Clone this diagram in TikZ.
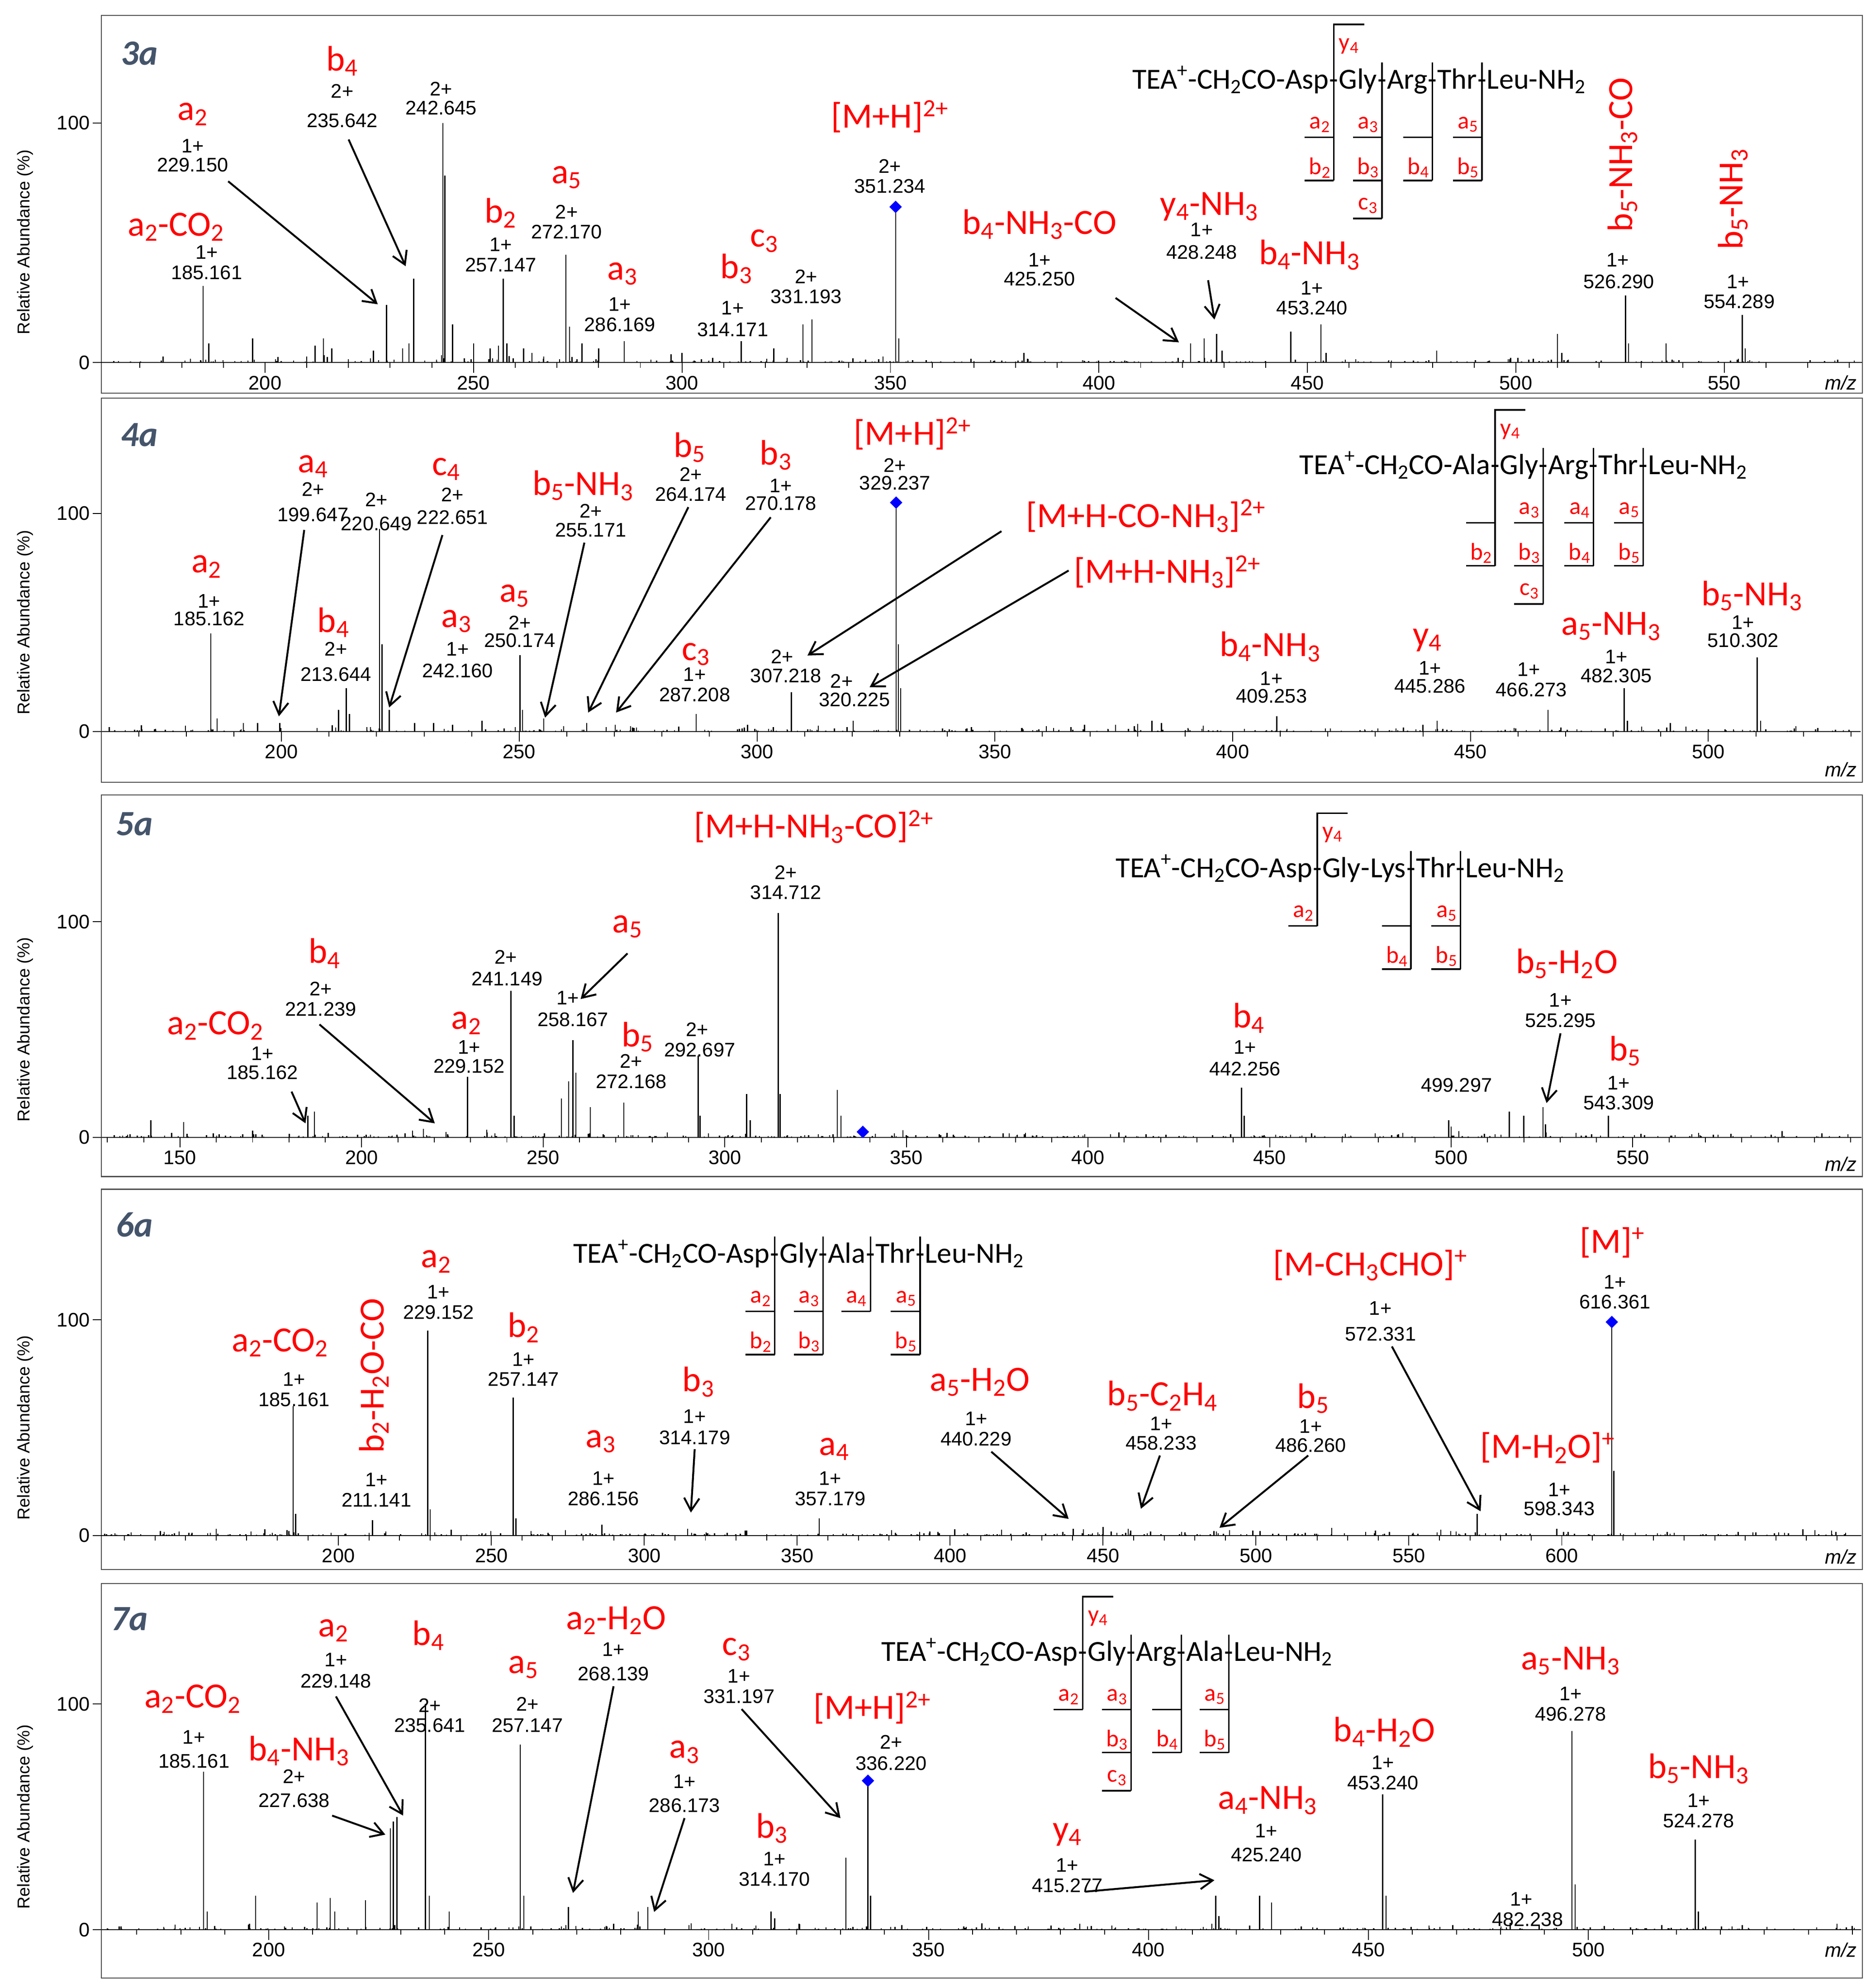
\documentclass[tikz,border=0pt]{standalone}
\usepackage{fontspec}
\setmainfont{Liberation Sans}
\newfontfamily\calfont{Carlito}
\usetikzlibrary{arrows.meta,shapes.geometric}
\definecolor{titlec}{HTML}{44546A}
\newcommand\sub[1]{\textsubscript{#1}}
\newcommand\super[1]{\textsuperscript{#1}}
\tikzset{
 lab/.style={text=red,font=\calfont\fontsize{28}{30}\selectfont,inner sep=0},
 num/.style={font=\fontsize{15.5}{17}\selectfont,inner sep=0},
 seqt/.style={font=\calfont\fontsize{23}{25}\selectfont,inner sep=0,anchor=base west},
 slab/.style={text=red,font=\calfont\fontsize{19}{20}\selectfont,inner sep=0},
 ptitle/.style={font=\calfont\bfseries\itshape\fontsize{28}{30}\selectfont,text=titlec},
 tickl/.style={font=\fontsize{15.5}{17}\selectfont,inner sep=0},
 ylab/.style={font=\fontsize{13.5}{15}\selectfont,rotate=90,inner sep=0},
 pk/.style={line width=0.9pt},
 ax/.style={line width=0.7pt},
 frm/.style={line width=0.8pt,draw=black!70},
 cut/.style={line width=1.2pt},
 arr/.style={-{Straight Barb[length=10pt,width=12pt]},line width=1.5pt},
 dia/.style={diamond,fill=blue,inner sep=0,minimum size=10pt},
}
% name, xlabel, ylabel, xnum, ycharge, ymass, label, charge, mass
\newcommand\ann[9]{%
 \node[lab] (#1l) at (#2,#3) {#7};
 \node[num] (#1c) at (#4,#5) {#8};
 \node[num] (#1m) at (#4,#6) {#9};}
% prefix, x, y, r1, r2, r3, r4
\newcommand\seqn[7]{%
 \node[seqt] (#1s0) at (#2,#3) {TEA\super{+}-CH\sub{2}CO-#4};
 \node[seqt] (#1h1) at (#1s0.base east) {-};
 \node[seqt] (#1s1) at (#1h1.base east) {#5};
 \node[seqt] (#1h2) at (#1s1.base east) {-};
 \node[seqt] (#1s2) at (#1h2.base east) {#6};
 \node[seqt] (#1h3) at (#1s2.base east) {-};
 \node[seqt] (#1s3) at (#1h3.base east) {#7};
 \node[seqt] (#1h4) at (#1s3.base east) {-};
 \node[seqt] (#1s4) at (#1h4.base east) {Leu-NH\sub{2}};}
\newcommand\cutv[2]{\draw[cut] ([yshift=17pt]#1.center) -- ([yshift=#2pt]#1.center);}
\newcommand\yfr[1]{\draw[cut] ([yshift=17pt]#1.center) -- ([yshift=47pt]#1.center) -- ++(24,0);
 \node[slab] (#1y) at ([xshift=12pt,yshift=30pt]#1.center) {y\sub4};}
\newcommand\slot[3]{\node[slab] (#1n#2) at ([xshift=-11pt,yshift=#2pt]#1.center) {#3};
 \draw[cut] ([yshift=#2pt-10pt]#1.center) -- ++(-23,0);}
% xmin,xmax,minorstart,minorend,majorstart,majorend
\newcommand\xaxis[6]{%
 \draw[ax] (#1,0) -- (#2,0);
 \foreach \t in {#3,\the\numexpr#3+10\relax,...,#4} \draw[ax] (\t,0) -- ++(0,-4pt);
 \foreach \t in {#5,\the\numexpr#5+50\relax,...,#6} {\draw[ax] (\t,0) -- ++(0,-8pt);
   \node[tickl] at ([yshift=-16pt]\t,0) {\t};}}
\newcommand\noise[3]{\foreach \i in {1,...,#3}{%
 \pgfmathsetmacro\xx{#1+rnd*(#2-#1)}\pgfmathsetmacro\hh{0.4+4*rnd*rnd*rnd}%
 \draw[pk] (\xx,0) -- (\xx,\hh);}}
\newcommand\yaxis[3]{% baseline, y100, center
 \draw[ax] (80,#1) -- (73,#1); \draw[ax] (80,#2) -- (73,#2);
 \node[tickl,anchor=east] at (71,#1) {0};
 \node[tickl,anchor=east] at (71,#2) {100};
 \node[ylab] at (20,#3) {Relative Abundance (\%)};}
\begin{document}
\begin{tikzpicture}[x=1pt,y=-1pt]
\pgfmathsetseed{7}
\useasboundingbox[fill=white] (0,0) rectangle (1472,1568);
%================ 3a
\draw[frm] (80,12) rectangle (1469,310);
\node[ptitle] (t3) at (110,42) {3a};
\yaxis{286}{97}{191}
\begin{scope}[shift={(-448.7,286)},x=3.289pt,y=1.89pt]
 \xaxis{160.7}{583}{170}{580}{200}{550}
 \noise{162}{582}{260}
 \foreach \m/\h in {185.161/32,186.5/8,197/10,212/7,214/10,216/6,226/5,229.150/24,233/6,234.5/8,235.642/35,242.645/100,243.15/78,245/16,250/8,254/6,256/7,257.147/35,258/8,262/6,264/4,272.170/45,273/15,276/8,280/6,286.169/9,300/4,314.171/9,322/6,329/16,331.193/18,351.234/65,352/10,382/4,422/8,425.250/10,428.248/12,429.5/5,446/13,453.240/16,454.5/4,481/5,510/12,511/4,526.290/28,527/8,536/8,554.289/20,555/6}
  \draw[pk] (\m,0) -- (\m,\h);
 \node[dia] (d3) at (351.234,65) {};
\end{scope}
\ann{a31}{139}{179}{163}{199}{215}{a\sub2-CO\sub2}{1+}{185.161}
\ann{a32}{152}{90}{152}{115}{130}{a\sub2}{1+}{229.150}
\ann{a33}{270}{48}{270}{72}{95}{b\sub4}{2+}{235.642}
\node[num] (a34c) at (348,70) {2+};
\node[num] (a34m) at (348,85) {242.645};
\ann{a35}{395}{168}{395}{193}{209}{b\sub2}{1+}{257.147}
\ann{a36}{447}{140}{447}{167}{183}{a\sub5}{2+}{272.170}
\ann{a37}{491}{216}{489}{240}{256}{a\sub3}{1+}{286.169}
\ann{a38}{581}{212}{578}{243}{260}{b\sub3}{1+}{314.171}
\ann{a39}{603}{190}{636}{218}{234}{c\sub3}{2+}{331.193}
\ann{a310}{702}{92}{702}{131}{147}{[M+H]\super{2+}}{2+}{351.234}
\ann{a311}{820}{177}{820}{205}{220}{b\sub4-NH\sub3-CO}{1+}{425.250}
\ann{a312}{954}{163}{948}{181}{199}{y\sub4-NH\sub3}{1+}{428.248}
\ann{a313}{1033}{201}{1035}{227}{243}{b\sub4-NH\sub3}{1+}{453.240}
\node[lab,rotate=90] (a314l) at (1280,122) {b\sub5-NH\sub3-CO};
\node[num] (a314c) at (1276,205) {1+};
\node[num] (a314m) at (1277,222) {526.290};
\node[lab,rotate=90] (a315l) at (1367,157) {b\sub5-NH\sub3};
\node[num] (a315c) at (1371,222) {1+};
\node[num] (a315m) at (1372,238) {554.289};
\node[font=\itshape\fontsize{15.5}{17}\selectfont] (mz3) at (1452,302) {m/z};
\coordinate (r31s) at (180,143); \coordinate (r31e) at (298,240);
\coordinate (r32s) at (275,110); \coordinate (r32e) at (320,210);
\coordinate (r33s) at (880,235); \coordinate (r33e) at (930,270);
\coordinate (r34s) at (953,221); \coordinate (r34e) at (958,252);
\draw[arr] (r31s) -- (r31e); \draw[arr] (r32s) -- (r32e);
\draw[arr] (r33s) -- (r33e); \draw[arr] (r34s) -- (r34e);
\seqn{q3}{893}{70}{Asp}{Gly}{Arg}{Thr}
\yfr{q3h1}\cutv{q3h1}{-76}\slot{q3h1}{-32}{a\sub2}\slot{q3h1}{-66}{b\sub2}
\cutv{q3h2}{-106}\slot{q3h2}{-32}{a\sub3}\slot{q3h2}{-66}{b\sub3}\slot{q3h2}{-96}{c\sub3}
\cutv{q3h3}{-76}\slot{q3h3}{-32}{}\slot{q3h3}{-66}{b\sub4}
\cutv{q3h4}{-76}\slot{q3h4}{-32}{a\sub5}\slot{q3h4}{-66}{b\sub5}
%================ 4a
\draw[frm] (80,314) rectangle (1469,617);
\node[ptitle] (t4) at (110,343) {4a};
\yaxis{577}{405}{491}
\begin{scope}[shift={(-528.4,577)},x=3.752pt,y=1.72pt]
 \xaxis{162.2}{532}{170}{530}{200}{500}
 \noise{163}{531}{260}
 \foreach \m/\h in {185.162/45,186.5/6,192/4,195/4,199.647/4,212/10,213.644/20,214.3/8,220.649/93,221.15/40,222.651/10,228/4,232/4,236/3,242.160/5,250.174/35,250.7/10,255.171/6,264.174/4,270.178/3,287.208/8,298/3,307.218/18,320.225/5,329.237/105,329.7/40,330.2/20,383/5,385/4,409.253/7,440/3,443/5,466.273/10,482.305/20,483/5,492/4,510.302/34,511/5}
  \draw[pk] (\m,0) -- (\m,\h);
 \node[dia] (d4) at (329.237,105) {};
\end{scope}
\ann{a41}{163}{447}{165}{474}{488}{a\sub2}{1+}{185.162}
\ann{a42}{247}{368}{247}{386}{406}{a\sub4}{2+}{199.647}
\node[num] (a43c) at (297,394) {2+};
\node[num] (a43m) at (297,413) {220.649};
\ann{a44}{352}{370}{357}{390}{408}{c\sub4}{2+}{222.651}
\ann{a45}{263}{491}{265}{512}{532}{b\sub4}{2+}{213.644}
\ann{a46}{360}{490}{361}{512}{529}{a\sub3}{1+}{242.160}
\ann{a47}{406}{470}{410}{491}{505}{a\sub5}{2+}{250.174}
\ann{a48}{460}{383}{466}{403}{418}{b\sub5-NH\sub3}{2+}{255.171}
\ann{a49}{544}{353}{545}{374}{390}{b\sub5}{2+}{264.174}
\ann{a410}{612}{359}{616}{383}{397}{b\sub3}{1+}{270.178}
\ann{a411}{720}{342}{706}{367}{381}{[M+H]\super{2+}}{2+}{329.237}
\node[lab] (a412l) at (904,407) {[M+H-CO-NH\sub3]\super{2+}};
\node[lab] (a413l) at (921,451) {[M+H-NH\sub3]\super{2+}};
\ann{a414}{549}{516}{548}{532}{548}{c\sub3}{1+}{287.208}
\node[num] (a415c) at (617,518) {2+};
\node[num] (a415m) at (620,533) {307.218};
\node[num] (a416c) at (664,537) {2+};
\node[num] (a416m) at (674,552) {320.225};
\ann{a417}{1002}{510}{1003}{535}{549}{b\sub4-NH\sub3}{1+}{409.253}
\ann{a418}{1126}{505}{1128}{527}{541}{y\sub4}{1+}{445.286}
\node[num] (a419c) at (1206,528) {1+};
\node[num] (a419m) at (1208,544) {466.273};
\ann{a420}{1271}{494}{1275}{518}{533}{a\sub5-NH\sub3}{1+}{482.305}
\ann{a421}{1382}{470}{1375}{491}{505}{b\sub5-NH\sub3}{1+}{510.302}
\node[font=\itshape\fontsize{15.5}{17}\selectfont] (mz4) at (1452,607) {m/z};
\coordinate (r41s) at (240,418); \coordinate (r41e) at (220,565);
\coordinate (r42s) at (349,422); \coordinate (r42e) at (307,558);
\coordinate (r43s) at (461,428); \coordinate (r43e) at (430,566);
\coordinate (r44s) at (543,400); \coordinate (r44e) at (464,562);
\coordinate (r45s) at (608,408); \coordinate (r45e) at (486,562);
\coordinate (r46s) at (790,419); \coordinate (r46e) at (637,517);
\coordinate (r47s) at (843,450); \coordinate (r47e) at (686,542);
\foreach \k in {1,...,7} \draw[arr] (r4\k s) -- (r4\k e);
\seqn{q4}{1025}{374}{Ala}{Gly}{Arg}{Thr}
\yfr{q4h1}\cutv{q4h1}{-76}\slot{q4h1}{-32}{}\slot{q4h1}{-66}{b\sub2}
\cutv{q4h2}{-106}\slot{q4h2}{-32}{a\sub3}\slot{q4h2}{-66}{b\sub3}\slot{q4h2}{-96}{c\sub3}
\cutv{q4h3}{-76}\slot{q4h3}{-32}{a\sub4}\slot{q4h3}{-66}{b\sub4}
\cutv{q4h4}{-76}\slot{q4h4}{-32}{a\sub5}\slot{q4h4}{-66}{b\sub5}
%================ 5a
\draw[frm] (80,627) rectangle (1469,928);
\node[ptitle] (t5) at (106,650) {5a};
\yaxis{897}{727}{812}
\begin{scope}[shift={(-287.75,897)},x=2.865pt,y=1.70pt]
 \xaxis{128.4}{613}{130}{610}{150}{550}
 \noise{130}{612}{300}
 \foreach \m/\h in {142/8,151/7,170/3,185.162/10,187/12,214/3,217/4,229.152/28,241.149/68,242/10,255/18,257/26,258.167/45,259/30,263/14,272.168/16,292.697/38,293.2/10,306/20,307/8,314.712/104,315.2/20,331/22,332/10,442.256/23,443/10,499.297/8,500/5,516/12,520/10,525.295/14,526/6,543.309/10}
  \draw[pk] (\m,0) -- (\m,\h);
 \node[dia] (d5) at (338,2.5) {};
\end{scope}
\ann{a51}{642}{652}{620}{688}{704}{[M+H-NH\sub3-CO]\super{2+}}{2+}{314.712}
\ann{a52}{170}{809}{207}{831}{846}{a\sub2-CO\sub2}{1+}{185.162}
\ann{a53}{256}{752}{253}{780}{796}{b\sub4}{2+}{221.239}
\ann{a54}{368}{807}{370}{826}{841}{a\sub2}{1+}{229.152}
\node[num] (a55c) at (399,755) {2+};
\node[num] (a55m) at (400,772) {241.149};
\node[lab] (a56l) at (495,731) {a\sub5};
\node[num] (a56c) at (448,787) {1+};
\node[num] (a56m) at (452,804) {258.167};
\ann{a57}{503}{818}{498}{837}{853}{b\sub5}{2+}{272.168}
\node[num] (a58c) at (550,812) {2+};
\node[num] (a58m) at (552,828) {292.697};
\ann{a59}{985}{803}{982}{826}{843}{b\sub4}{1+}{442.256}
\node[num] (a510m) at (1149,856) {499.297};
\ann{a511}{1236}{760}{1231}{789}{805}{b\sub5-H\sub2O}{1+}{525.295}
\ann{a512}{1282}{829}{1277}{854}{870}{b\sub5}{1+}{543.309}
\node[font=\itshape\fontsize{15.5}{17}\selectfont] (mz5) at (1452,918) {m/z};
\coordinate (r51s) at (230,861); \coordinate (r51e) at (241,886);
\coordinate (r52s) at (252,808); \coordinate (r52e) at (343,886);
\coordinate (r53s) at (495,752); \coordinate (r53e) at (458,788);
\coordinate (r54s) at (1231,815); \coordinate (r54e) at (1220,870);
\foreach \k in {1,...,4} \draw[arr] (r5\k s) -- (r5\k e);
\seqn{q5}{880}{692}{Asp}{Gly}{Lys}{Thr}
\yfr{q5h1}\cutv{q5h1}{-42}\slot{q5h1}{-32}{a\sub2}
\cutv{q5h3}{-76}\slot{q5h3}{-32}{}\slot{q5h3}{-66}{b\sub4}
\cutv{q5h4}{-76}\slot{q5h4}{-32}{a\sub5}\slot{q5h4}{-66}{b\sub5}
%================ 6a
\draw[frm] (80,938) rectangle (1469,1238);
\node[ptitle] (t6) at (106,966) {6a};
\yaxis{1211}{1041}{1126}
\begin{scope}[shift={(-215.5,1211)},x=2.4125pt,y=1.70pt]
 \xaxis{122}{698}{130}{690}{200}{600}
 \noise{123}{697}{300}
 \foreach \m/\h in {160/3,185.161/60,186/10,211.141/7,229.152/95,230/12,257.147/64,258/8,286.156/5,314.179/3,357.179/8,440.229/3,458.233/3,486.260/2,572.331/10,598.343/3,616.361/99,617/30}
  \draw[pk] (\m,0) -- (\m,\h);
 \node[dia] (d6) at (616.361,99) {};
\end{scope}
\ann{a61}{221}{1059}{232}{1088}{1104}{a\sub2-CO\sub2}{1+}{185.161}
\node[lab,rotate=90] (a62l) at (295,1085) {b\sub2-H\sub2O-CO};
\node[num] (a62c) at (297,1167) {1+};
\node[num] (a62m) at (297,1183) {211.141};
\ann{a63}{344}{995}{346}{1019}{1035}{a\sub2}{1+}{229.152}
\ann{a64}{413}{1047}{413}{1072}{1088}{b\sub2}{1+}{257.147}
\ann{a65}{474}{1137}{476}{1166}{1182}{a\sub3}{1+}{286.156}
\ann{a66}{551}{1090}{548}{1117}{1134}{b\sub3}{1+}{314.179}
\ann{a67}{658}{1143}{655}{1166}{1182}{a\sub4}{1+}{357.179}
\ann{a68}{773}{1090}{770}{1119}{1135}{a\sub5-H\sub2O}{1+}{440.229}
\ann{a69}{917}{1101}{916}{1123}{1138}{b\sub5-C\sub2H\sub4}{1+}{458.233}
\ann{a610}{1036}{1103}{1034}{1125}{1140}{b\sub5}{1+}{486.260}
\ann{a611}{1081}{998}{1089}{1032}{1052}{[M-CH\sub3CHO]\super{+}}{1+}{572.331}
\ann{a612}{1272}{980}{1274}{1011}{1027}{[M]\super{+}}{1+}{616.361}
\ann{a613}{1221}{1142}{1230}{1175}{1190}{[M-H\sub2O]\super{+}}{1+}{598.343}
\node[font=\itshape\fontsize{15.5}{17}\selectfont] (mz6) at (1452,1228) {m/z};
\coordinate (r61s) at (548,1143); \coordinate (r61e) at (545,1193);
\coordinate (r62s) at (782,1145); \coordinate (r62e) at (843,1198);
\coordinate (r63s) at (915,1148); \coordinate (r63e) at (900,1190);
\coordinate (r64s) at (1032,1148); \coordinate (r64e) at (962,1205);
\coordinate (r65s) at (1098,1062); \coordinate (r65e) at (1168,1192);
\foreach \k in {1,...,5} \draw[arr] (r6\k s) -- (r6\k e);
\seqn{q6}{452}{996}{Asp}{Gly}{Ala}{Thr}
\cutv{q6h1}{-76}\slot{q6h1}{-32}{a\sub2}\slot{q6h1}{-66}{b\sub2}
\cutv{q6h2}{-76}\slot{q6h2}{-32}{a\sub3}\slot{q6h2}{-66}{b\sub3}
\cutv{q6h3}{-42}\slot{q6h3}{-32}{a\sub4}
\cutv{q6h4}{-76}\slot{q6h4}{-32}{a\sub5}\slot{q6h4}{-66}{b\sub5}
%================ 7a
\draw[frm] (80,1249) rectangle (1469,1560);
\node[ptitle] (t7) at (102,1277) {7a};
\yaxis{1522}{1344}{1433}
\begin{scope}[shift={(-482,1522)},x=3.47pt,y=1.78pt]
 \xaxis{162}{562}{170}{560}{200}{500}
 \noise{163}{561}{280}
 \foreach \m/\h in {185.161/70,186/8,197/15,211/12,214/14,215/8,222/13,227.638/45,228.3/48,229.148/50,235.641/100,236.5/15,241/8,257.147/82,258/15,268.139/10,284/8,286.173/10,314.170/8,315/5,331.197/32,336.220/66,336.8/15,415.277/15,416/6,425.240/15,428/12,453.240/60,454/15,482.238/3,496.278/88,497/20,524.278/40,525/8}
  \draw[pk] (\m,0) -- (\m,\h);
 \node[dia] (d7) at (336.220,66) {};
\end{scope}
\ann{a71}{152}{1340}{153}{1370}{1389}{a\sub2-CO\sub2}{1+}{185.161}
\ann{a72}{263}{1286}{265}{1309}{1326}{a\sub2}{1+}{229.148}
\ann{a73}{338}{1290}{339}{1345}{1361}{b\sub4}{2+}{235.641}
\ann{a74}{413}{1315}{416}{1344}{1361}{a\sub5}{2+}{257.147}
\ann{a75}{236}{1381}{232}{1401}{1420}{b\sub4-NH\sub3}{2+}{227.638}
\ann{a76}{486}{1278}{484}{1301}{1320}{a\sub2-H\sub2O}{1+}{268.139}
\ann{a77}{581}{1301}{583}{1322}{1338}{c\sub3}{1+}{331.197}
\ann{a78}{540}{1382}{540}{1405}{1424}{a\sub3}{1+}{286.173}
\ann{a79}{609}{1442}{611}{1466}{1482}{b\sub3}{1+}{314.170}
\ann{a710}{688}{1347}{703}{1374}{1391}{[M+H]\super{2+}}{2+}{336.220}
\ann{a711}{842}{1447}{842}{1471}{1487}{y\sub4}{1+}{415.277}
\ann{a712}{1000}{1420}{999}{1444}{1463}{a\sub4-NH\sub3}{1+}{425.240}
\ann{a713}{1092}{1366}{1091}{1390}{1406}{b\sub4-H\sub2O}{1+}{453.240}
\ann{a714}{1239}{1310}{1239}{1336}{1352}{a\sub5-NH\sub3}{1+}{496.278}
\ann{a715}{1340}{1395}{1340}{1420}{1436}{b\sub5-NH\sub3}{1+}{524.278}
\node[num] (a716c) at (1200,1498) {1+};
\node[num] (a716m) at (1205,1514) {482.238};
\node[font=\itshape\fontsize{15.5}{17}\selectfont] (mz7) at (1452,1538) {m/z};
\coordinate (r71s) at (265,1338); \coordinate (r71e) at (318,1432);
\coordinate (r72s) at (262,1432); \coordinate (r72e) at (304,1447);
\coordinate (r73s) at (484,1330); \coordinate (r73e) at (452,1493);
\coordinate (r74s) at (585,1348); \coordinate (r74e) at (663,1434);
\coordinate (r75s) at (540,1434); \coordinate (r75e) at (516,1508);
\coordinate (r76s) at (856,1492); \coordinate (r76e) at (958,1483);
\foreach \k in {1,...,6} \draw[arr] (r7\k s) -- (r7\k e);
\seqn{q7}{695}{1310}{Asp}{Gly}{Arg}{Ala}
\yfr{q7h1}\cutv{q7h1}{-42}\slot{q7h1}{-32}{a\sub2}
\cutv{q7h2}{-106}\slot{q7h2}{-32}{a\sub3}\slot{q7h2}{-66}{b\sub3}\slot{q7h2}{-96}{c\sub3}
\cutv{q7h3}{-76}\slot{q7h3}{-32}{}\slot{q7h3}{-66}{b\sub4}
\cutv{q7h4}{-76}\slot{q7h4}{-32}{a\sub5}\slot{q7h4}{-66}{b\sub5}
\end{tikzpicture}
\end{document}
